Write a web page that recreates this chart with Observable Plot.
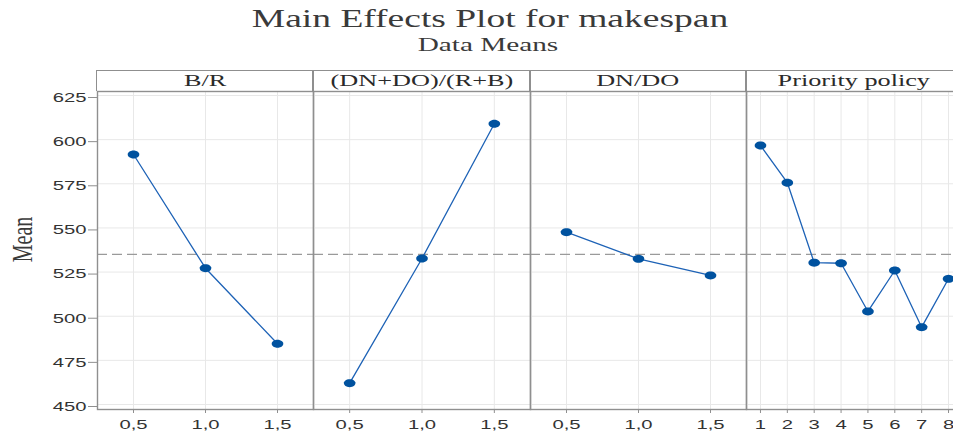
<!DOCTYPE html>
<html>
<head>
<meta charset="utf-8">
<script src="https://cdn.jsdelivr.net/npm/d3@7"></script>
<script src="https://cdn.jsdelivr.net/npm/@observablehq/plot@0.6"></script>
<style>
  html, body { margin: 0; padding: 0; background: #fff; }
  #chart { position: relative; width: 953px; height: 435px; overflow: hidden; background: #fff; }
  .ttl { position: absolute; white-space: nowrap; font-family: "Liberation Serif", "Times New Roman", serif; color: #3a3a3a; line-height: 1; transform-origin: center; }
  .strip { position: absolute; box-sizing: border-box; border: 1.4px solid #8f8f8f; border-bottom: none; height: 21px; top: 70px; z-index: 5;
           font-family: "Liberation Serif", "Times New Roman", serif; font-size: 17.5px; line-height: 19px; color: #2a2a2a; text-align: center; white-space: nowrap; }
  .strip span { display: inline-block; transform: scaleX(1.5); transform-origin: center; }
</style>
</head>
<body>
<div id="chart"></div>
<script>
// ---- data ----
const factorNames = ["B/R", "(DN+DO)/(R+B)", "DN/DO", "Priority policy"];
const ratioLevels = [0.5, 1.0, 1.5];
const brMeans = [591.6, 527.2, 484.4];
const dnDoRbMeans = [462.1, 532.7, 609.0];
const dnDoMeans = [547.6, 532.5, 523.1];
const priorityLevels = [1, 2, 3, 4, 5, 6, 7, 8];
const priorityMeans = [596.7, 575.6, 530.3, 530.0, 502.7, 525.9, 493.8, 521.2];
const grandMean = 535.0;
const yTicks = [450, 475, 500, 525, 550, 575, 600, 625];
const titleText = "Main Effects Plot for makespan";
const subtitleText = "Data Means";
const yLabel = "Mean";

const series = [
  {levels: ratioLevels, means: brMeans},
  {levels: ratioLevels, means: dnDoRbMeans},
  {levels: ratioLevels, means: dnDoMeans},
  {levels: priorityLevels, means: priorityMeans}
];

// ---- layout ----
const panels = [
  {left: 0, width: 313, ml: 97, xDomain: [0.25, 1.75]},
  {left: 313, width: 217, ml: 0, xDomain: [0.25, 1.75]},
  {left: 530, width: 216, ml: 0, xDomain: [0.25, 1.75]},
  {left: 746, width: 216, ml: 0, xDomain: [0.48, 8.52]}
];
const SX = 1.5; // horizontal stretch of the reference image
const tickFont = "'Liberation Sans', Arial, sans-serif";
const serif = "'Liberation Serif', 'Times New Roman', serif";
const lineColor = "#1d62b6";
const dotColor = "#00529f";
const frameColor = "#8f8f8f";
const gridColor = "#e8e8e8";

const ellipse = {
  draw(ctx, size) {
    const r = Math.sqrt(size / Math.PI);
    const rx = r * 1.45, ry = r, n = 28;
    for (let k = 0; k < n; k++) {
      const a = 2 * Math.PI * k / n;
      const px = rx * Math.cos(a), py = ry * Math.sin(a);
      if (k) ctx.lineTo(px, py); else ctx.moveTo(px, py);
    }
    ctx.closePath();
  }
};

const chart = document.getElementById("chart");

function stretchTexts(svg) {
  svg.querySelectorAll("text").forEach(t => {
    const tr = t.getAttribute("transform");
    if (tr) {
      if (/rotate\(\s*-?90|rotate\(\s*270/.test(tr)) t.setAttribute("transform", tr + ` scale(1,${SX})`);
      else t.setAttribute("transform", tr + ` scale(${SX},1)`);
    } else {
      const tx = +(t.getAttribute("x") || 0), ty = +(t.getAttribute("y") || 0);
      t.setAttribute("transform", `translate(${tx},${ty}) scale(${SX},1) translate(${-tx},${-ty})`);
    }
  });
}

panels.forEach((p, i) => {
  const s = series[i];
  const data = s.levels.map((lv, j) => ({level: lv, mean: s.means[j]}));
  const isPriority = i === 3;
  const xTicks = s.levels;
  const fmt = isPriority ? (d => String(d)) : (d => d.toFixed(1).replace(".", ","));
  const marks = [
    Plot.gridY(yTicks, {stroke: gridColor, strokeOpacity: 1, strokeWidth: 1}),
    Plot.gridX(xTicks, {stroke: gridColor, strokeOpacity: 1, strokeWidth: 1}),
    Plot.ruleY([grandMean], {stroke: "#9a9a9a", strokeWidth: 1.1, strokeDasharray: "10,5"}),
    Plot.line(data, {x: "level", y: "mean", stroke: lineColor, strokeWidth: 1.3}),
    Plot.dot(data, {x: "level", y: "mean", r: 4, symbol: ellipse, fill: dotColor, stroke: "none"}),
    Plot.axisX(xTicks, {tickFormat: fmt, tickSize: 4, tickPadding: 6, stroke: frameColor, fill: "#333", fontSize: 13.5, fontFamily: tickFont, label: null}),
    Plot.frame({stroke: frameColor, strokeWidth: 1.4})
  ];
  if (i === 0) {
    marks.push(Plot.axisY(yTicks, {tickSize: 9, tickPadding: 2, dy: 2, stroke: frameColor, fill: "#333", fontSize: 13.5, fontFamily: tickFont, label: null}));
    marks.push(Plot.text([yLabel], {frameAnchor: "left", dx: -75, dy: -11, rotate: -90, fontSize: 20, fontFamily: serif, fill: "#3a3a3a", textAnchor: "middle", lineAnchor: "middle"}));
  }
  const svg = Plot.plot({
    width: p.width,
    height: 365,
    marginTop: 21,
    marginBottom: 26,
    marginLeft: p.ml,
    marginRight: 0,
    x: {domain: p.xDomain, axis: null},
    y: {domain: [447.17, 627.27], axis: null},
    style: {position: "absolute", left: p.left + "px", top: "70px", overflow: "visible", background: "transparent", maxWidth: "none", color: "#333"},
    marks
  });
  stretchTexts(svg);
  chart.appendChild(svg);
});

// strips (facet labels)
panels.forEach((p, i) => {
  const plotLeft = p.left + p.ml;
  const plotWidth = p.width - p.ml;
  const d = document.createElement("div");
  d.className = "strip";
  d.style.left = (plotLeft - 0.7) + "px";
  d.style.width = (plotWidth + 1.4) + "px";
  const sp = document.createElement("span");
  sp.textContent = factorNames[i];
  d.appendChild(sp);
  chart.appendChild(d);
});

// title and subtitle
const t = document.createElement("div");
t.className = "ttl";
t.textContent = titleText;
t.style.fontSize = "25px";
t.style.left = "490px";
t.style.top = "6px";
t.style.transform = `translateX(-50%) scaleX(${SX})`;
chart.appendChild(t);

const st = document.createElement("div");
st.className = "ttl";
st.textContent = subtitleText;
st.style.fontSize = "19.5px";
st.style.left = "488px";
st.style.top = "35px";
st.style.transform = `translateX(-50%) scaleX(${SX})`;
chart.appendChild(st);
</script>
</body>
</html>
